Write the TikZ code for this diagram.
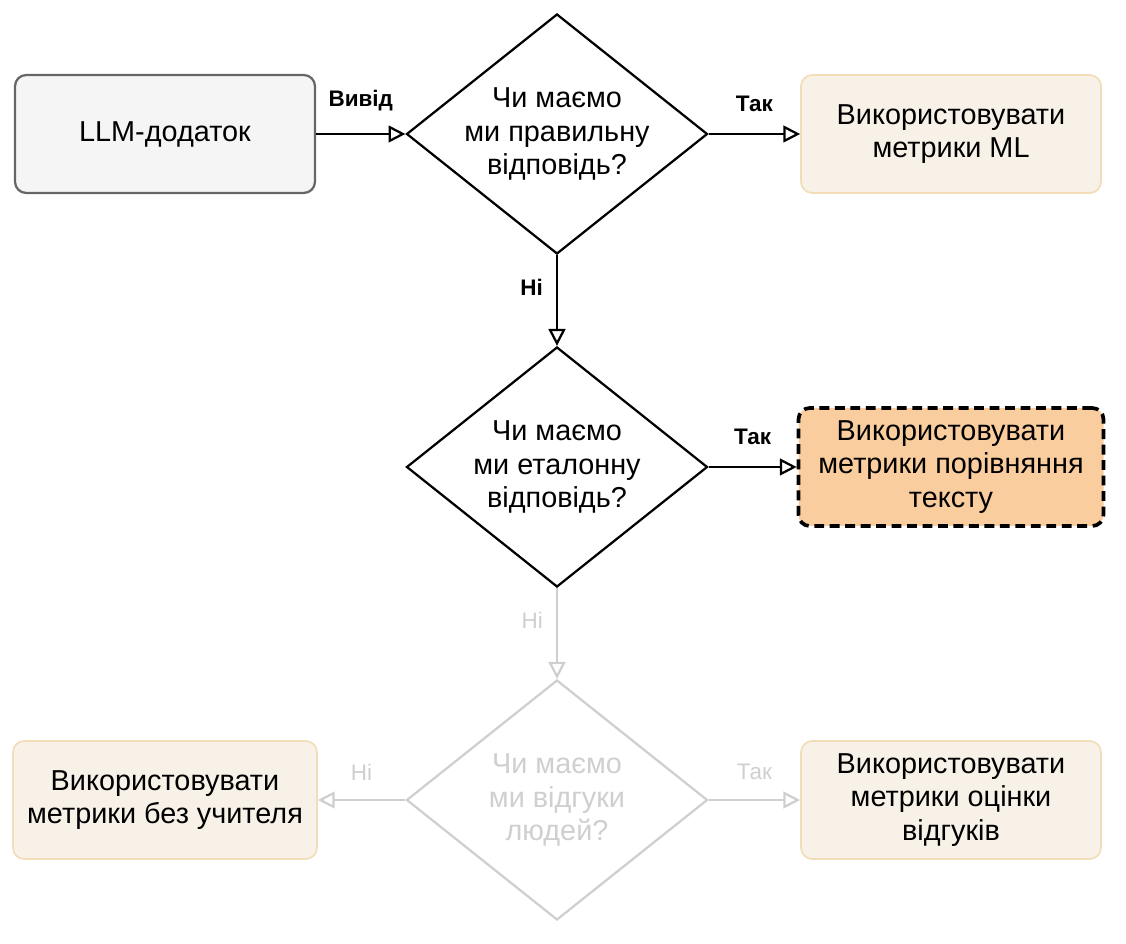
\documentclass[tikz,border=0pt]{standalone}
\usepackage{fontspec}
\setmainfont{Liberation Sans}
\usetikzlibrary{arrows.meta,shapes.geometric,positioning}
\definecolor{boxgray}{HTML}{F5F5F5}
\definecolor{boxline}{HTML}{666666}
\definecolor{cream}{HTML}{F8F1E7}
\definecolor{creamline}{HTML}{F2DDB8}
\definecolor{orangefill}{HTML}{F9CD9E}
\definecolor{faded}{HTML}{CFCFCF}
\begin{document}
\begin{tikzpicture}[x=0.025cm,y=-0.025cm,
    every node/.style={font=\fontsize{20.5}{24}\selectfont, align=center},
    box/.style={rectangle, rounded corners=8pt, minimum width=300*0.025cm, minimum height=118*0.025cm, inner sep=2pt},
    choice/.style={diamond, draw, line width=1.6pt, minimum width=301*0.025cm, minimum height=240*0.025cm, inner sep=0pt},
    flow/.style={-{Triangle[open,length=12pt,width=12pt]}, line width=1.6pt},
    lbl/.style={font=\fontsize{16}{19}\selectfont\bfseries}
  ]
  \useasboundingbox (0,0) rectangle (1126,944);
  % boxes
  \node[box, draw=boxline, line width=1.6pt, fill=boxgray] (app) at (165,134) {LLM-додаток};
  \node[box, draw=creamline, line width=1.2pt, fill=cream] (ml) at (951,134) {Використовувати\\метрики ML};
  \node[box, draw=black, line width=2.6pt, dash pattern=on 7pt off 4pt, fill=orangefill, minimum width=305*0.025cm] (txt) at (951,467) {Використовувати\\метрики порівняння\\тексту};
  \node[box, draw=creamline, line width=1.2pt, fill=cream, minimum width=304*0.025cm] (unsup) at (165,800) {Використовувати\\метрики без учителя};
  \node[box, draw=creamline, line width=1.2pt, fill=cream] (fb) at (951,800) {Використовувати\\метрики оцінки\\відгуків};
  % decisions
  \node[choice, label={[align=center]center:Чи маємо\\ми правильну\\відповідь?}] (q1) at (557,134) {};
  \node[choice, label={[align=center]center:Чи маємо\\ми еталонну\\відповідь?}] (q2) at (557,467) {};
  \node[choice, draw=faded, label={[align=center, text=faded]center:Чи маємо\\ми відгуки\\людей?}] (q3) at (557,800) {};
  % connectors
  \draw[flow] (app) -- node[lbl, above=12pt] {Вивід} (q1);
  \draw[flow] (q1) -- node[lbl, above=12pt] {Так} (ml);
  \draw[flow] (q1) -- node[lbl, left=6pt, pos=0.35] {Ні} (q2);
  \draw[flow] (q2) -- node[lbl, above=12pt] {Так} (txt);
  \draw[flow, faded] (q2) -- node[font=\fontsize{16}{19}\selectfont, text=faded, left=6pt, pos=0.35] {Ні} (q3);
  \draw[flow, faded] (q3) -- node[font=\fontsize{16}{19}\selectfont, text=faded, above=10pt] {Ні} (unsup);
  \draw[flow, faded] (q3) -- node[font=\fontsize{16}{19}\selectfont, text=faded, above=10pt] {Так} (fb);
\end{tikzpicture}
\end{document}
